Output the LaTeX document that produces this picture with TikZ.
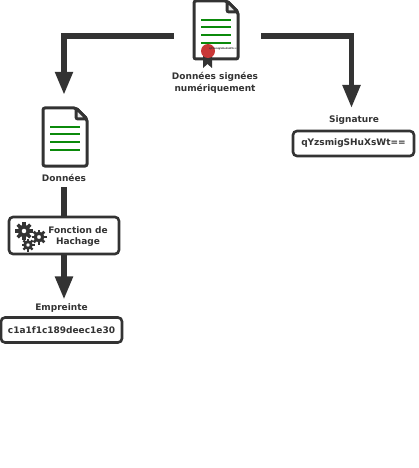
\documentclass[tikz,border=0pt]{standalone}
\usepackage{fontspec}
\setmainfont{DejaVu Sans}
\usepackage{tikz}
\usetikzlibrary{arrows.meta,positioning}
\definecolor{ink}{HTML}{333333}
\definecolor{leaf}{HTML}{0B8A0B}
\definecolor{seal}{HTML}{C83737}

% sheet of paper, origin at its top left corner
\newcommand{\sheet}[2]{
  \begin{scope}[shift={(#1,#2)}]
    \draw[paper] (4,1) -- (33,1) -- (44,12) -- (44,59) -- (0,59) -- (0,1) -- cycle;
    \draw[paper,fill=ink!12] (33,1) -- (33,12) -- (44,12) -- cycle;
    \foreach \y in {20,27,35,43}
      \draw[greenline] (7,\y) -- (37,\y);
  \end{scope}
}
% one gear: x, y, radius
\newcommand{\gear}[3]{
  \foreach \a in {0,45,...,315}
    \draw[ink,line width=#3*.36pt] (#1,#2) ++(\a:#3*.6) -- ++(\a:#3*.4);
  \draw[ink,line width=#3*.42pt,fill=white] (#1,#2) circle ({#3*.5});
}

\begin{document}
\begin{tikzpicture}[
    x=1pt,y=-1pt,
    every node/.style={font=\bfseries\fontsize{9}{11.5}\selectfont,text=ink},
    paper/.style={draw=ink,line width=3pt,fill=white,rounded corners=2pt},
    greenline/.style={draw=leaf,line width=2.2pt},
    doc/.style={minimum width=45pt,minimum height=60pt,inner sep=0pt},
    lab/.style={align=center,inner sep=0pt},
    valuebox/.style={draw=ink,line width=2.6pt,rounded corners=4pt,fill=white,inner sep=0pt,minimum height=25pt},
    link/.style={draw=ink,line width=5.2pt},
    arrow/.style={link,-{Triangle[length=23pt,width=17pt]}}
  ]
  \useasboundingbox (0,0) rectangle (419,468);

  %signed document
  \sheet{194}{0}
  \fill[ink] (203,56) -- (212,56) -- (212,68) -- (207.5,64) -- (203,68) -- cycle;
  \fill[seal] (208,51) circle (7);
  \node[font=\bfseries\fontsize{2.4}{3}\selectfont,inner sep=0pt] (tiny) at (223,48.5) {qYzsmigSHuXsWt==};
  \node[doc,minimum height=48pt] (signed) at (216.5,36) {};
  \node[lab] (signedlab) at (215,83) {Données signées\\numériquement};

  %signature
  \node[lab] (siglab) at (354,120.5) {Signature};
  \coordinate (sigtip) at (351.5,108);
  \node[valuebox,minimum width=121pt] (sigbox) at (353.5,143.5) {qYzsmigSHuXsWt==};

  %data
  \sheet{43}{107}
  \node[doc] (data) at (64,137) {};
  \node[lab] (datalab) at (64,177.5) {Données};

  %hash function
  \node[valuebox,minimum width=110pt,minimum height=37pt] (hash) at (64,235.5) {};
  \node[lab] (hashlab) at (78,236.5) {Fonction de\\Hachage};
  \gear{24}{231}{9}
  \gear{39}{237}{7.5}
  \gear{28}{245}{6.5}

  %fingerprint
  \node[lab] (printlab) at (61.5,308) {Empreinte};
  \node[valuebox,minimum width=121pt] (printbox) at (61.5,330) {c1a1f1c189deec1e30};

  %links
  \draw[arrow,shorten <=20pt,shorten >=12pt] (signed.west) -| (data.north);
  \draw[arrow,shorten <=22pt] (signed.east) -| (sigtip);
  \draw[link,shorten <=6pt] (datalab.south) -- (hash.north);
  \draw[arrow,shorten >=4pt] (hash.south) -- (hash.south |- printlab.north);
\end{tikzpicture}
\end{document}
